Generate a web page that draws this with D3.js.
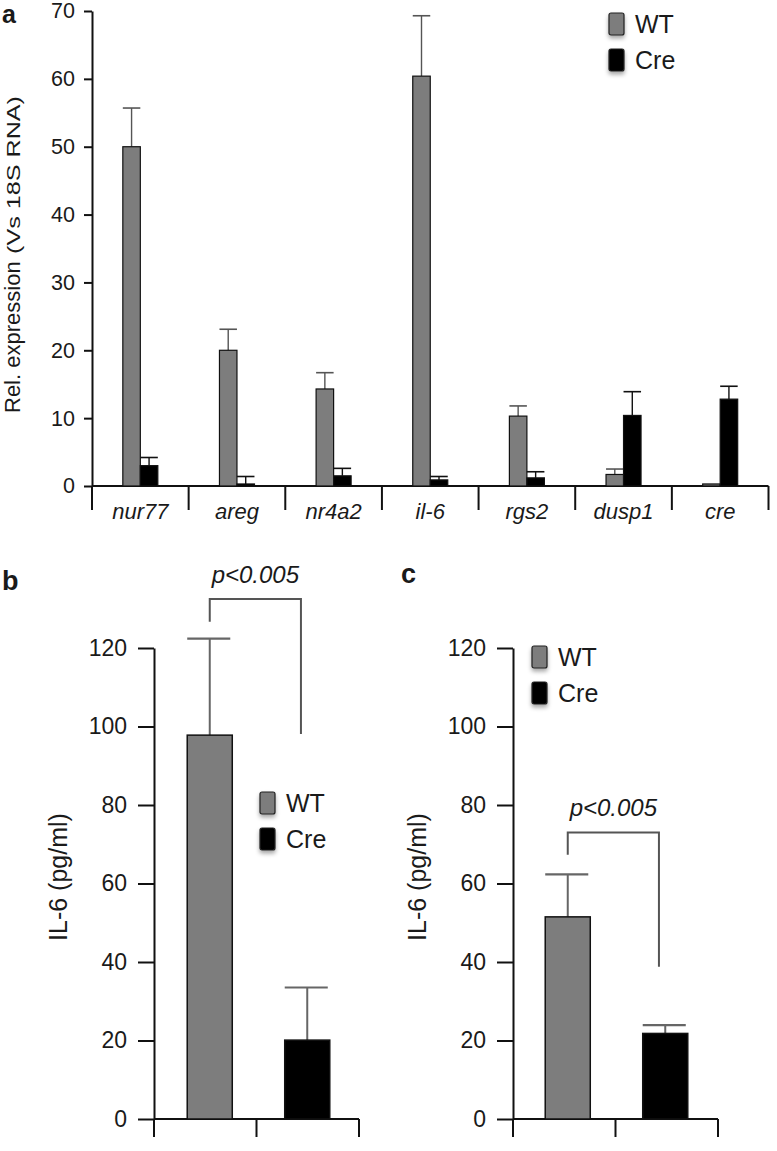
<!DOCTYPE html>
<html>
<head>
<meta charset="utf-8">
<script src="https://cdn.jsdelivr.net/npm/d3@7"></script>
<style>
  html, body { margin: 0; padding: 0; background: #fff; }
  svg { display: block; }
  text { font-family: "Liberation Sans", Arial, Helvetica, sans-serif; fill: #1a1a1a; }
</style>
</head>
<body>
<script>
// ---------- DATA ----------
const series = ["WT", "Cre"];
const seriesColors = ["#7d7d7d", "#000000"];

// Panel a
const genes = ["nur77", "areg", "nr4a2", "il-6", "rgs2", "dusp1", "cre"];
const wtExpr = [50.0, 20.0, 14.3, 60.4, 10.3, 1.7, 0.3];
const wtExprErr = [5.7, 3.1, 2.4, 8.9, 1.5, 0.8, 0];
const creExpr = [3.0, 0.3, 1.5, 0.9, 1.2, 10.4, 12.8];
const creExprErr = [1.2, 1.1, 1.1, 0.5, 0.9, 3.5, 1.9];
const yTicksA = [0, 10, 20, 30, 40, 50, 60, 70];

// Panel b
const il6B = [97.8, 20.1];
const il6BErr = [24.6, 13.4];
const bracketB = [132.5, 126.7, 98.1]; // top, left leg end, right leg end (pg/ml)

// Panel c
const il6C = [51.5, 21.8];
const il6CErr = [10.8, 2.1];
const bracketC = [73.0, 67.3, 38.8];

const yTicksBC = [0, 20, 40, 60, 80, 100, 120];
const pLabel = "p<0.005";

// ---------- SVG ----------
const W = 777, H = 1151;
const svg = d3.select("body").append("svg").attr("width", W).attr("height", H);

const defs = svg.append("defs");
const f = defs.append("filter").attr("id", "sh").attr("x", "-50%").attr("y", "-50%").attr("width", "200%").attr("height", "200%");
f.append("feDropShadow").attr("dx", 0).attr("dy", 3).attr("stdDeviation", 2).attr("flood-color", "#000").attr("flood-opacity", 0.35);

function styleAxis(g, fontSize) {
  g.select(".domain").attr("stroke", "#111").attr("stroke-width", 2);
  g.selectAll(".tick line").attr("stroke", "#111").attr("stroke-width", 2);
  g.selectAll(".tick text").attr("font-size", fontSize).attr("fill", "#1a1a1a")
    .attr("font-family", '"Liberation Sans", Arial, sans-serif');
}

function legend(x, y, fs, step) {
  const lg = svg.append("g").attr("transform", `translate(${x},${y})`);
  series.forEach((s, i) => {
    lg.append("rect").attr("x", 0).attr("y", i * step).attr("width", 15).attr("height", 22)
      .attr("rx", 2).attr("fill", seriesColors[i]).attr("stroke", "#222").attr("stroke-width", 1.2)
      .attr("filter", "url(#sh)");
    lg.append("text").attr("x", 26).attr("y", i * step + 20).attr("font-size", fs).text(s);
  });
}

function panelLabel(t, x, y, fs) {
  svg.append("text").attr("x", x).attr("y", y).attr("font-size", fs).attr("font-weight", "bold")
    .attr("fill", "#111").text(t);
}

// ---------- PANEL A ----------
{
  const x0 = 92, x1 = 768.5;
  const yA = d3.scaleLinear().domain([0, 70]).range([486, 11]);
  const xA = d3.scaleBand().domain(genes).range([x0, x1]);
  const xSub = d3.scaleBand().domain(series).range([-17.5, 17.5]);
  const vals = [wtExpr, creExpr];
  const errs = [wtExprErr, creExprErr];

  const gy = svg.append("g").attr("transform", `translate(${x0},0)`)
    .call(d3.axisLeft(yA).tickValues(yTicksA).tickSize(8).tickPadding(9).tickSizeOuter(0));
  styleAxis(gy, 21.5);

  // x baseline and dividers
  svg.append("line").attr("x1", x0).attr("x2", x1).attr("y1", yA(0)).attr("y2", yA(0))
    .attr("stroke", "#111").attr("stroke-width", 2);
  const divs = genes.map(g => xA(g)).concat([x1]);
  svg.selectAll(".divA").data(divs).enter().append("line")
    .attr("x1", d => d).attr("x2", d => d).attr("y1", yA(0)).attr("y2", yA(0) + 24)
    .attr("stroke", "#111").attr("stroke-width", 2);

  // bars
  series.forEach((s, si) => {
    genes.forEach((g, gi) => {
      const cx = xA(g) + xA.bandwidth() / 2 + xSub(s);
      const v = vals[si][gi], e = errs[si][gi];
      const ec = si === 0 ? "#555" : "#111";
      if (e > 0) {
        svg.append("line").attr("x1", cx + xSub.bandwidth() / 2).attr("x2", cx + xSub.bandwidth() / 2)
          .attr("y1", yA(v)).attr("y2", yA(v + e)).attr("stroke", ec).attr("stroke-width", 1.4);
        svg.append("line").attr("x1", cx).attr("x2", cx + xSub.bandwidth())
          .attr("y1", yA(v + e)).attr("y2", yA(v + e)).attr("stroke", ec).attr("stroke-width", 1.6);
      }
      svg.append("rect").attr("x", cx).attr("y", yA(v)).attr("width", xSub.bandwidth())
        .attr("height", yA(0) - yA(v)).attr("fill", seriesColors[si])
        .attr("stroke", "#111").attr("stroke-width", 1.2);
    });
  });

  // x labels
  svg.selectAll(".labA").data(genes).enter().append("text")
    .attr("x", d => xA(d) + xA.bandwidth() / 2).attr("y", 519)
    .attr("text-anchor", "middle").attr("font-size", 22).attr("font-style", "italic").text(d => d);

  // y title
  svg.append("text").attr("transform", "translate(20,413) rotate(-90)")
    .attr("font-size", 22).text("Rel. expression");
  svg.append("text").attr("transform", "translate(20,254) rotate(-90)")
    .attr("font-size", 18).attr("textLength", 158).attr("lengthAdjust", "spacingAndGlyphs")
    .text("(Vs 18S RNA)");

  legend(609, 13, 25, 36);
  panelLabel("a", 2, 23, 25);
}

// ---------- PANELS B & C ----------
function il6Panel(ax, ax1, barR, vals, errs, br, legendPos, labelPos, lab) {
  const yS = d3.scaleLinear().domain([0, 120]).range([1119, 648]);
  const xAx = d3.scaleBand().domain(series).range([ax, ax1]);
  const xBar = d3.scaleBand().domain(series).range(barR).paddingInner(0.538).paddingOuter(0.269);

  const gy = svg.append("g").attr("transform", `translate(${ax},0)`)
    .call(d3.axisLeft(yS).tickValues(yTicksBC).tickSize(16).tickPadding(11).tickSizeOuter(0));
  styleAxis(gy, 23);

  svg.append("line").attr("x1", ax).attr("x2", ax1).attr("y1", yS(0)).attr("y2", yS(0))
    .attr("stroke", "#111").attr("stroke-width", 2);
  const divs = series.map(s => xAx(s)).concat([ax1]);
  divs.forEach(d => {
    svg.append("line").attr("x1", d).attr("x2", d).attr("y1", yS(0)).attr("y2", yS(0) + 18)
      .attr("stroke", "#111").attr("stroke-width", 2);
  });

  series.forEach((s, i) => {
    const bx = xBar(s), bw = xBar.bandwidth();
    const v = vals[i], e = errs[i];
    svg.append("line").attr("x1", bx + bw / 2).attr("x2", bx + bw / 2)
      .attr("y1", yS(v)).attr("y2", yS(v + e)).attr("stroke", "#666").attr("stroke-width", 2);
    svg.append("line").attr("x1", bx).attr("x2", bx + bw - 2)
      .attr("y1", yS(v + e)).attr("y2", yS(v + e)).attr("stroke", "#666").attr("stroke-width", 2.2);
    svg.append("rect").attr("x", bx).attr("y", yS(v)).attr("width", bw).attr("height", yS(0) - yS(v))
      .attr("fill", seriesColors[i]).attr("stroke", "#111").attr("stroke-width", 1.5);
  });

  // significance bracket
  const lx = xBar(series[0]) + xBar.bandwidth() / 2;
  const rx = xBar(series[1]) + xBar.bandwidth() * 0.36;
  svg.append("path")
    .attr("d", `M${lx},${yS(br[1])}V${yS(br[0])}H${rx}V${yS(br[2])}`)
    .attr("fill", "none").attr("stroke", "#555").attr("stroke-width", 2);
  svg.append("text").attr("x", (lx + rx) / 2).attr("y", yS(br[0]) - 16)
    .attr("text-anchor", "middle").attr("font-size", 24).attr("font-style", "italic").text(pLabel);

  // y title
  svg.append("text").attr("transform", `translate(${ax - 87},877) rotate(-90)`)
    .attr("text-anchor", "middle").attr("font-size", 25).text("IL-6 (pg/ml)");

  legend(legendPos[0], legendPos[1], 25, 36);
  panelLabel(lab, labelPos[0], labelPos[1], 27);
}

il6Panel(154, 359, [161, 356], il6B, il6BErr, bracketB, [260, 792], [2, 590], "b");
il6Panel(513, 718, [519, 714], il6C, il6CErr, bracketC, [532, 646], [401, 583], "c");
</script>
</body>
</html>
